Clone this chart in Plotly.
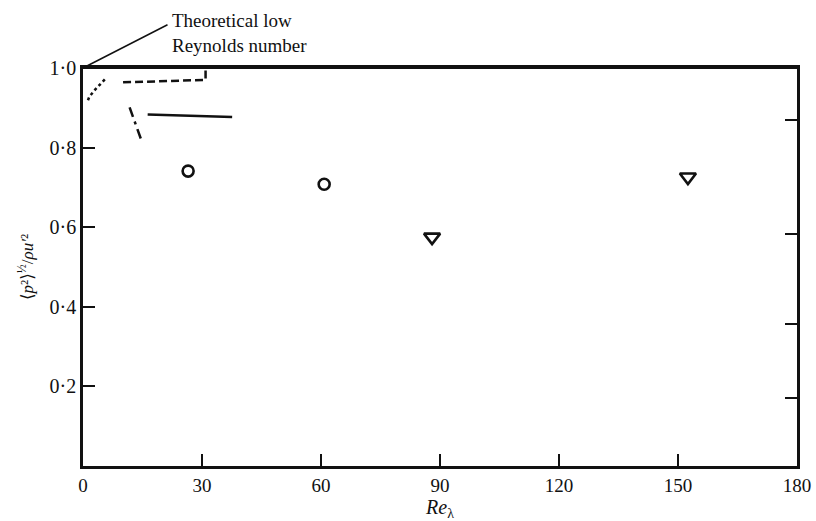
import plotly.graph_objects as go

# Measured data
circle_x = [26.5, 60.8]
circle_y = [0.741, 0.708]
tri_x = [88.0, 152.5]
tri_y = [0.575, 0.726]

theory_x = [0, 180]
theory_y = [1.0, 1.0]

dotted_x = [1.25, 1.6, 3.0, 4.7, 5.75]
dotted_y = [0.919, 0.928, 0.945, 0.963, 0.974]

dashed_x = [10.1, 30.9, 30.9]
dashed_y = [0.964, 0.970, 0.995]

dashdot_x = [11.75, 14.7]
dashdot_y = [0.901, 0.819]

solid_x = [16.3, 37.6]
solid_y = [0.883, 0.877]

x_ticks = [0, 30, 60, 90, 120, 150, 180]
y_ticks = [0.2, 0.4, 0.6, 0.8, 1.0]
y_ticktext = ["0·2", "0·4", "0·6", "0·8", "1·0"]
right_ticks = [0.17, 0.356, 0.582, 0.869]

FONT = "Liberation Serif, Tinos, 'Times New Roman', DejaVu Serif, serif"
BLACK = "#111111"

fig = go.Figure()

fig.add_trace(go.Scatter(x=theory_x, y=theory_y, mode="lines",
                         line=dict(color=BLACK, width=2.2), cliponaxis=False))
fig.add_trace(go.Scatter(x=dotted_x, y=dotted_y, mode="lines",
                         line=dict(color=BLACK, width=2.5, dash="dot")))
fig.add_trace(go.Scatter(x=dashed_x, y=dashed_y, mode="lines",
                         line=dict(color=BLACK, width=2.5, dash="8px,4px")))
fig.add_trace(go.Scatter(x=dashdot_x, y=dashdot_y, mode="lines",
                         line=dict(color=BLACK, width=2.5, dash="10px,5px,3px,5px")))
fig.add_trace(go.Scatter(x=solid_x, y=solid_y, mode="lines",
                         line=dict(color=BLACK, width=2.5)))
fig.add_trace(go.Scatter(x=circle_x, y=circle_y, mode="markers",
                         marker=dict(symbol="circle-open", size=11, color=BLACK,
                                     line=dict(width=2.6, color=BLACK))))
fig.add_trace(go.Scatter(x=tri_x, y=tri_y, mode="markers",
                         marker=dict(symbol="triangle-down-open", size=14, color=BLACK,
                                     line=dict(width=2.6, color=BLACK))))
# invisible trace to activate right axis ticks
fig.add_trace(go.Scatter(x=[None], y=[None], yaxis="y2", showlegend=False))

fig.update_layout(
    width=816, height=521,
    margin=dict(l=83, r=19, t=68, b=55, autoexpand=False),
    paper_bgcolor="white", plot_bgcolor="white",
    showlegend=False,
    font=dict(family=FONT, color=BLACK, size=20),
    xaxis=dict(range=[0, 180], tickvals=x_ticks, ticks="inside", ticklen=12,
               tickwidth=1.6, tickcolor=BLACK, showgrid=False, zeroline=False,
               showline=True, linecolor=BLACK, linewidth=2.5, mirror=True,
               automargin=False,
               tickfont=dict(family=FONT, size=19),
               title=dict(text="<i>Re</i><sub>λ</sub>", font=dict(family=FONT, size=20),
                          standoff=2)),
    yaxis=dict(range=[0, 1.0], tickvals=y_ticks, ticktext=y_ticktext,
               ticks="inside", ticklen=12, tickwidth=2.2, tickcolor=BLACK,
               showgrid=False, zeroline=False, showline=True, linecolor=BLACK,
               linewidth=2.5, mirror=True, automargin=False,
               tickfont=dict(family=FONT, size=20),
               title=dict(text="⟨<i>p</i>²⟩<sup>½</sup>/<i>ρu′</i>²",
                          font=dict(family=FONT, size=17), standoff=12)),
    yaxis2=dict(range=[0, 1.0], overlaying="y", side="right", tickvals=right_ticks,
                showticklabels=False, ticks="inside", ticklen=12, tickwidth=2.2,
                tickcolor=BLACK, showgrid=False, zeroline=False, showline=False,
                automargin=False),
)

# leader line of the theory label
fig.add_annotation(x=0, y=1.0, xref="x", yref="y", text="",
                   showarrow=True, arrowhead=0, arrowwidth=1.5, arrowcolor=BLACK,
                   ax=86, ay=-44, axref="pixel", ayref="pixel")
fig.add_annotation(x=0, y=1.0, xref="x", yref="y",
                   text="Theoretical low<br>Reynolds number",
                   showarrow=False, xshift=87, yshift=35, align="left",
                   xanchor="left", yanchor="middle",
                   font=dict(family=FONT, size=19, color=BLACK))

fig.write_html("out.html")
